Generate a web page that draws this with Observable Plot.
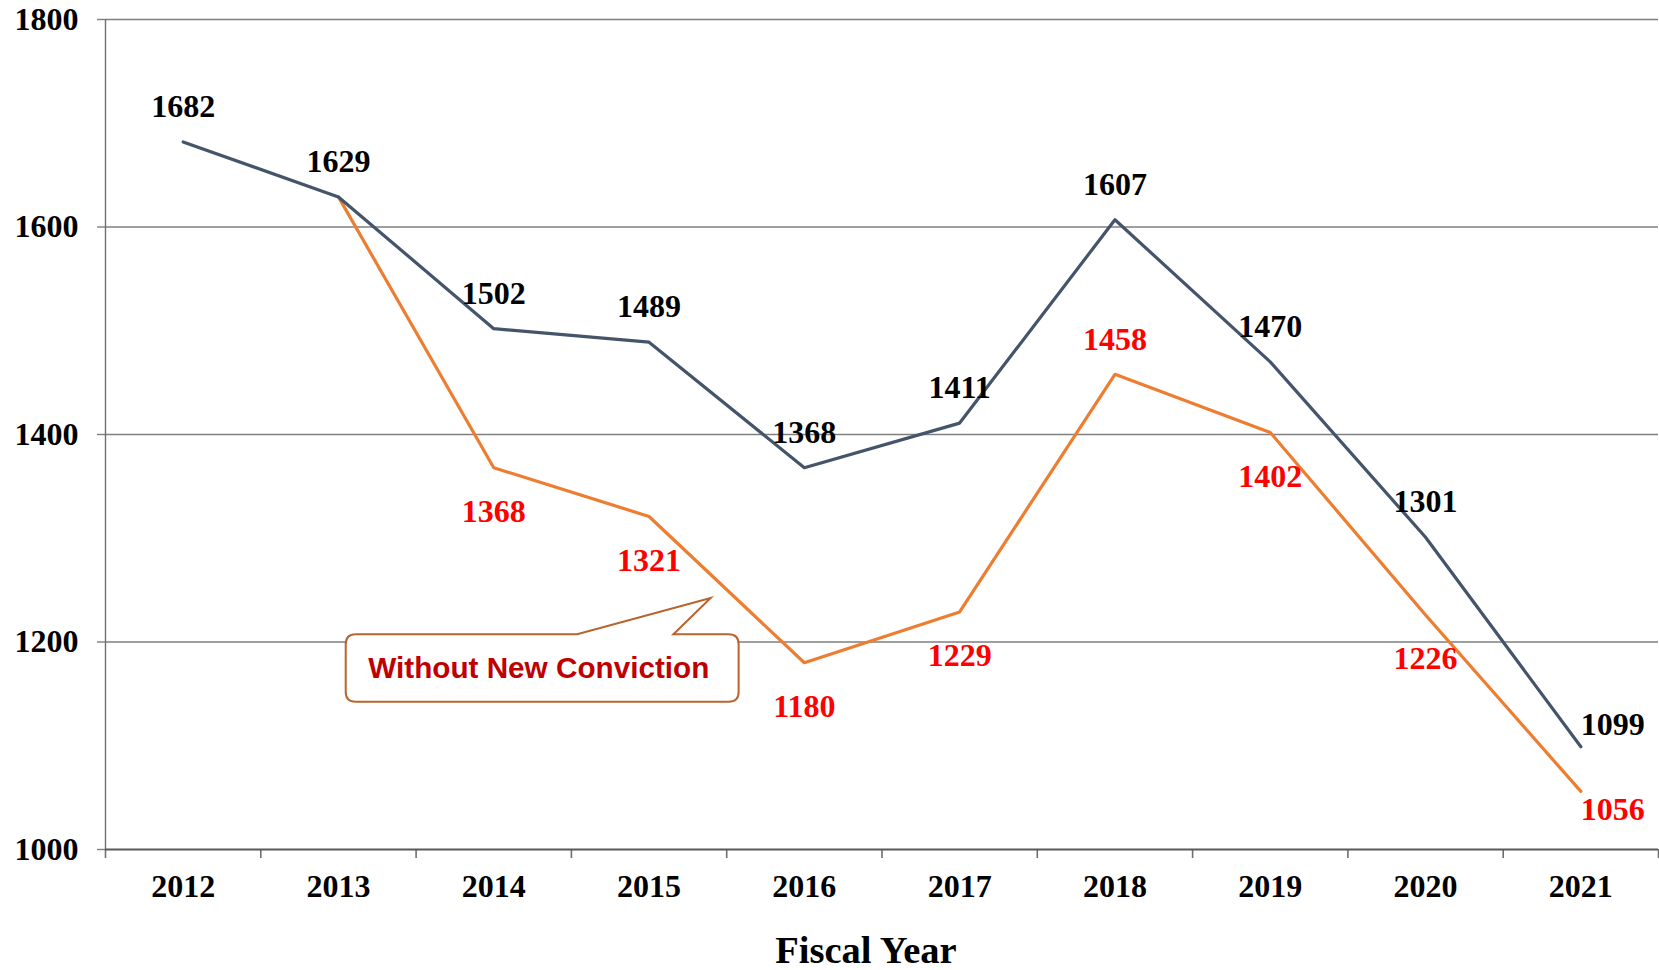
<!DOCTYPE html>
<html>
<head>
<meta charset="utf-8">
<script src="https://cdn.jsdelivr.net/npm/d3@7"></script>
<script src="https://cdn.jsdelivr.net/npm/@observablehq/plot@0.6"></script>
<style>
  html, body { margin: 0; padding: 0; background: #fff; }
</style>
</head>
<body>
<div id="chart"></div>
<script>
// ---- data ----
const years = [2012, 2013, 2014, 2015, 2016, 2017, 2018, 2019, 2020, 2021];
const totalValues = [1682, 1629, 1502, 1489, 1368, 1411, 1607, 1470, 1301, 1099];
const withoutNewValues = [null, 1629, 1368, 1321, 1180, 1229, 1458, 1402, 1226, 1056];
const totalLabelPlace = ["above", "above", "above", "above", "above", "above", "above", "above", "above", "right"];
const withoutNewLabelPlace = [null, null, "below", "below", "below", "below", "above", "below", "below", "right"];
const yTicks = [1000, 1200, 1400, 1600, 1800];
const xTitle = "Fiscal Year";
const calloutText = "Without New Conviction";
// callout geometry in data units (year, value)
const calloutBoxX = [2013.05, 2015.58];
const calloutBoxY = [1142, 1207];
const calloutPointer = [[2014.54, 1207], [2015.40, 1242], [2015.16, 1207]];
const calloutTextAt = [2014.29, 1174];

// ---- build tables ----
const totalRows = years.map((yr, i) => ({year: yr, value: totalValues[i], place: totalLabelPlace[i]}));
const withoutRows = years.map((yr, i) => ({year: yr, value: withoutNewValues[i], place: withoutNewLabelPlace[i]}))
  .filter(d => d.value != null);
const boundaries = years.map(y => y - 0.5).concat([years[years.length - 1] + 0.5]);
const xDomain = [boundaries[0], boundaries[boundaries.length - 1]];

const serif = "'Liberation Serif', 'Times New Roman', serif";
const sans = "'Liberation Sans', Arial, sans-serif";
const navy = "#44546a";
const orange = "#ed7d31";
const labelSize = 32;

function labelMarks(rows, color, rightDy) {
  const common = {x: "year", y: "value", text: d => String(d.value), fill: color,
    fontSize: labelSize, fontWeight: "bold", fontFamily: serif};
  return [
    Plot.text(rows.filter(d => d.place === "above"), {...common, dy: -35}),
    Plot.text(rows.filter(d => d.place === "below"), {...common, dy: 44}),
    Plot.text(rows.filter(d => d.place === "right"), {...common, dx: 32, dy: rightDy})
  ];
}

function callout(index, scales) {
  const x = scales.x, y = scales.y;
  const x1 = x(calloutBoxX[0]), x2 = x(calloutBoxX[1]);
  const yt = y(calloutBoxY[1]), yb = y(calloutBoxY[0]);
  const r = 10;
  const p = calloutPointer.map(([a, b]) => [x(a), y(b)]);
  const d = [
    `M${x1 + r},${yt}`,
    `L${p[0][0]},${yt}`,
    `L${p[1][0]},${p[1][1]}`,
    `L${p[2][0]},${yt}`,
    `L${x2 - r},${yt}`,
    `Q${x2},${yt} ${x2},${yt + r}`,
    `L${x2},${yb - r}`,
    `Q${x2},${yb} ${x2 - r},${yb}`,
    `L${x1 + r},${yb}`,
    `Q${x1},${yb} ${x1},${yb - r}`,
    `L${x1},${yt + r}`,
    `Q${x1},${yt} ${x1 + r},${yt}`,
    "Z"
  ].join(" ");
  const g = document.createElementNS("http://www.w3.org/2000/svg", "g");
  const path = document.createElementNS("http://www.w3.org/2000/svg", "path");
  path.setAttribute("d", d);
  path.setAttribute("fill", "#ffffff");
  path.setAttribute("stroke", "#b8642c");
  path.setAttribute("stroke-width", "2");
  path.setAttribute("stroke-linejoin", "miter");
  g.appendChild(path);
  return g;
}

const chart = Plot.plot({
  width: 1659,
  height: 970,
  marginLeft: 105,
  marginRight: 1,
  marginTop: 19,
  marginBottom: 121,
  style: {background: "#fff", overflow: "visible"},
  x: {type: "linear", domain: xDomain},
  y: {domain: [1000, 1800]},
  marks: [
    // horizontal gridlines
    Plot.ruleY(yTicks.filter(v => v > 1000), {x1: xDomain[0], x2: xDomain[1], stroke: "#7f7f7f", strokeWidth: 1.4}),
    // y axis
    Plot.axisY({ticks: yTicks, tickSize: 8, tickPadding: 19, tickFormat: d => String(d), label: null,
      stroke: "#7f7f7f", strokeWidth: 1.4, fill: "#000", fontSize: labelSize, fontWeight: "bold", fontFamily: serif}),
    Plot.ruleX([xDomain[0]], {y1: 1000, y2: 1800, stroke: "#6f6f6f", strokeWidth: 1.4}),
    // x axis
    Plot.axisX({ticks: boundaries, tickSize: 9, tickFormat: () => "", label: null, stroke: "#6f6f6f", strokeWidth: 1.6}),
    Plot.text(years, {x: d => d, frameAnchor: "bottom", dy: 47, text: d => String(d),
      fill: "#000", fontSize: labelSize, fontWeight: "bold", fontFamily: serif}),
    Plot.ruleY([1000], {x1: xDomain[0], x2: xDomain[1], stroke: "#595959", strokeWidth: 2}),
    Plot.text([xTitle], {frameAnchor: "bottom", dx: -16, dy: 113, text: d => d, fill: "#000",
      fontSize: 38.5, fontWeight: "bold", fontFamily: serif}),
    // lines
    Plot.line(withoutRows, {x: "year", y: "value", stroke: orange, strokeWidth: 3.2}),
    Plot.line(totalRows, {x: "year", y: "value", stroke: navy, strokeWidth: 3.2}),
    ...labelMarks(totalRows, "#000000", -22),
    ...labelMarks(withoutRows, "#ff0000", 18),
    // callout
    callout,
    Plot.text([calloutText], {x: calloutTextAt[0], y: calloutTextAt[1], text: d => d, fill: "#c00000",
      fontSize: 29.7, fontWeight: "bold", fontFamily: sans})
  ]
});
document.getElementById("chart").appendChild(chart);
</script>
</body>
</html>
